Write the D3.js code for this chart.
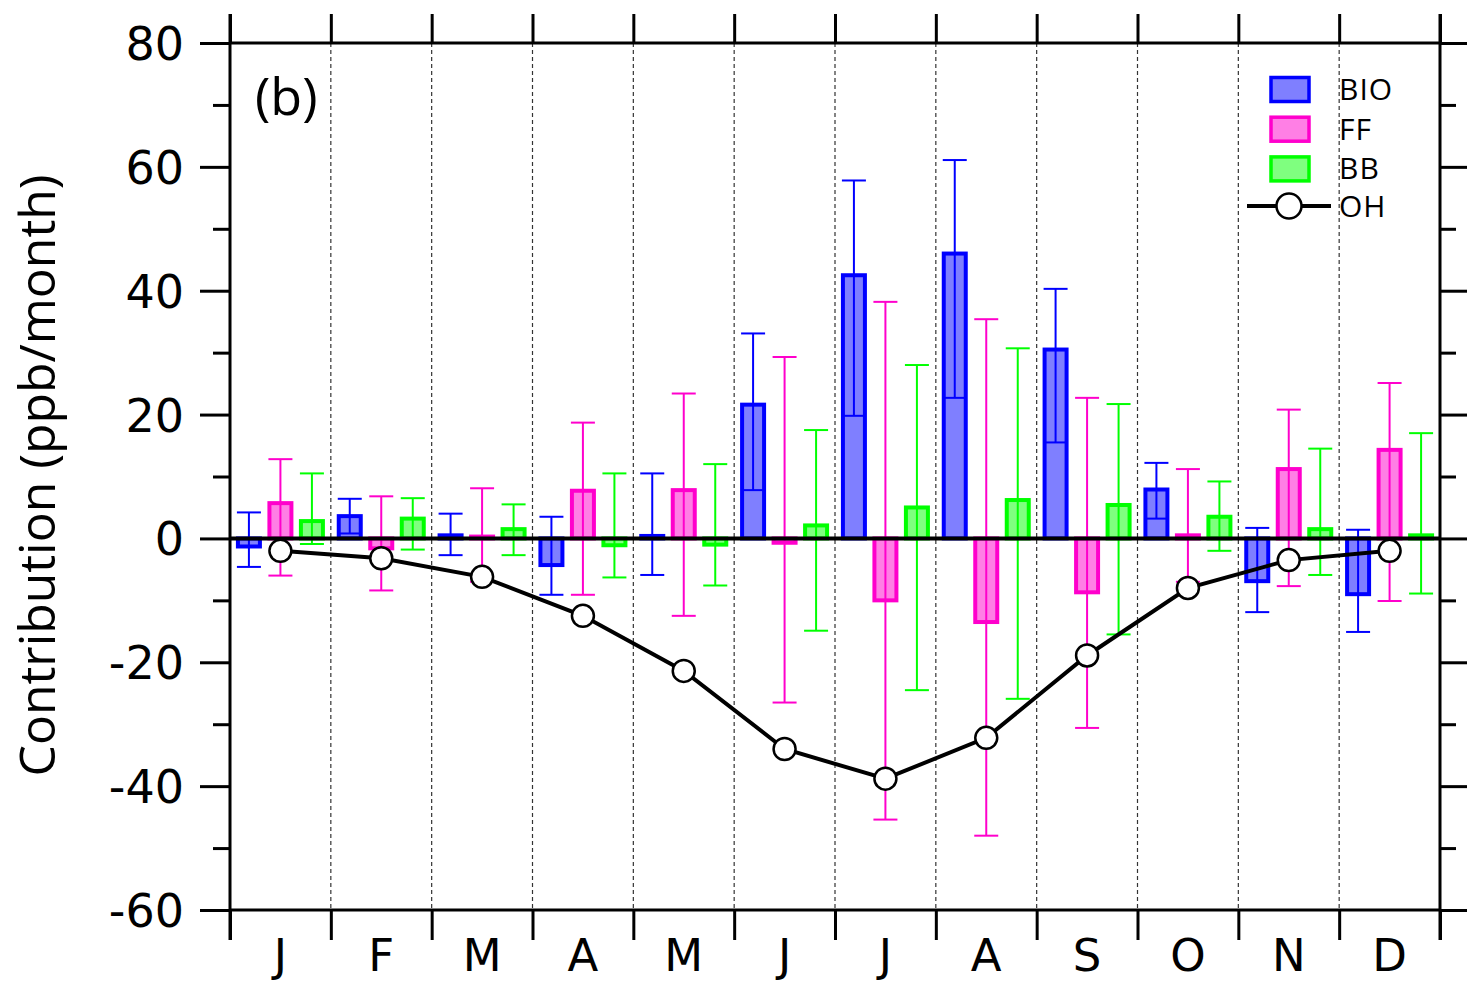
<!DOCTYPE html>
<html>
<head>
<meta charset="utf-8">
<script src="https://cdn.jsdelivr.net/npm/d3@7"></script>
<style>
  body { margin: 0; background: #fff; }
  svg { display: block; }
  .tick_lbl { font-family: "DejaVu Sans", sans-serif; }
</style>
</head>
<body>
<svg id="chart" width="1467" height="983"></svg>
<script>
// months along the x axis
var months = ["J","F","M","A","M","J","J","A","S","O","N","D"];
var series = ["BIO","FF","BB"];

// monthly contributions (ppb/month) and the ends of each error bar
var bio    = [-1.3, 3.6, 0.5, -4.3, 0.4, 21.6, 42.5, 46.0, 30.5, 7.9, -6.9, -9.0];
var bio_hi = [4.2, 6.4, 4.0, 3.5, 10.5, 33.1, 57.8, 61.1, 40.3, 12.2, 1.7, 1.4];
var bio_lo = [-4.6, 0.8, -2.7, -9.1, -5.9, 7.8, 19.8, 22.7, 15.5, 3.2, -11.9, -15.1];

var ff    = [5.7, -1.6, 0.3, 7.7, 7.8, -0.7, -10.0, -13.5, -8.7, 0.5, 11.2, 14.3];
var ff_hi = [12.8, 6.8, 8.1, 18.7, 23.4, 29.3, 38.2, 35.4, 22.7, 11.2, 20.8, 25.1];
var ff_lo = [-6.0, -8.4, -7.0, -9.1, -12.5, -26.5, -45.4, -48.0, -30.6, -7.0, -7.7, -10.1];

var bb    = [2.8, 3.2, 1.5, -1.1, -1.0, 2.1, 5.0, 6.2, 5.4, 3.5, 1.5, 0.5];
var bb_hi = [10.5, 6.5, 5.5, 10.5, 12.0, 17.5, 28.0, 30.7, 21.7, 9.2, 14.5, 17.0];
var bb_lo = [-0.9, -1.8, -2.7, -6.3, -7.6, -14.9, -24.5, -25.9, -15.5, -2.0, -5.9, -8.9];

var oh = [-2.0, -3.2, -6.2, -12.5, -21.4, -34.0, -38.8, -32.2, -18.9, -8.0, -3.5, -2.0];

var y_major = [-60, -40, -20, 0, 20, 40, 60, 80];
var y_minor = [-50, -30, -10, 10, 30, 50, 70];

var colors = { BIO: "#0000ff", FF: "#ff00cc", BB: "#00ff00" };

var margin = { left: 230, right: 27, top: 43, bottom: 73 };
var w_svg = 1467, h_svg = 983;
var x0 = margin.left, x1 = w_svg - margin.right;
var y0 = margin.top, y1 = h_svg - margin.bottom;

var svg = d3.select("#chart");

var idx = d3.range(months.length);
var x = d3.scaleBand().domain(idx).range([x0, x1]).padding(0);
var xb = d3.scaleLinear().domain([0, 12]).range([x0, x1]);   // month boundaries
var xs = d3.scaleBand().domain(series).range([-47.25, 47.25]);
var y = d3.scaleLinear().domain([-60, 80]).range([y1, y0]);

var rows = [];
idx.forEach(function(i) {
  rows.push({ s: "BIO", i: i, v: bio[i], hi: bio_hi[i], lo: bio_lo[i] });
  rows.push({ s: "FF",  i: i, v: ff[i],  hi: ff_hi[i],  lo: ff_lo[i] });
  rows.push({ s: "BB",  i: i, v: bb[i],  hi: bb_hi[i],  lo: bb_lo[i] });
});
function cx(d) { return x(d.i) + x.bandwidth()/2 + xs(d.s) + xs.bandwidth()/2; }

// dashed month separators
svg.append("g").selectAll("line")
   .data(d3.range(1, 12))
   .enter().append("line")
   .attr("x1", function(d) { return xb(d); })
   .attr("x2", function(d) { return xb(d); })
   .attr("y1", y0).attr("y2", y1)
   .style("stroke", "#333")
   .style("stroke-width", 1.2)
   .style("stroke-dasharray", "4,3");

// error bars (drawn under the half transparent bars)
var err = svg.append("g").selectAll("g")
   .data(rows).enter().append("g")
   .style("stroke", function(d) { return colors[d.s]; })
   .style("stroke-width", 2);
err.append("line")
   .attr("x1", cx).attr("x2", cx)
   .attr("y1", function(d) { return y(d.hi); })
   .attr("y2", function(d) { return y(d.lo); });
err.append("line")
   .attr("x1", function(d) { return cx(d) - 12; })
   .attr("x2", function(d) { return cx(d) + 12; })
   .attr("y1", function(d) { return y(d.hi); })
   .attr("y2", function(d) { return y(d.hi); });
err.append("line")
   .attr("x1", function(d) { return cx(d) - 12; })
   .attr("x2", function(d) { return cx(d) + 12; })
   .attr("y1", function(d) { return y(d.lo); })
   .attr("y2", function(d) { return y(d.lo); });

// bars
svg.append("g").selectAll("rect")
   .data(rows).enter().append("rect")
   .attr("x", function(d) { return cx(d) - 11; })
   .attr("width", 22)
   .attr("y", function(d) { return y(Math.max(d.v, 0)); })
   .attr("height", function(d) { return Math.abs(y(d.v) - y(0)); })
   .style("fill", function(d) { return colors[d.s]; })
   .style("fill-opacity", 0.5)
   .style("stroke", function(d) { return colors[d.s]; })
   .style("stroke-width", 4);

// zero line
svg.append("line")
   .attr("x1", x0).attr("x2", x1)
   .attr("y1", y(0)).attr("y2", y(0))
   .style("stroke", "black")
   .style("stroke-width", 4);

// OH line + circles
var ohx = function(d, i) { return x(i) + x.bandwidth()/2; };
svg.append("path")
   .datum(oh)
   .attr("d", d3.line().x(ohx).y(function(d) { return y(d); }))
   .style("fill", "none")
   .style("stroke", "black")
   .style("stroke-width", 4);
svg.append("g").selectAll("circle")
   .data(oh).enter().append("circle")
   .attr("cx", ohx)
   .attr("cy", function(d) { return y(d); })
   .attr("r", 11)
   .style("fill", "white")
   .style("stroke", "black")
   .style("stroke-width", 2.5);

// axes
function clean(g) {
  g.select(".domain").remove();
  g.selectAll(".tick line").style("stroke", "black").style("stroke-width", 3);
}
svg.append("g").attr("transform", "translate(" + x0 + ",0)")
   .call(d3.axisLeft(y).tickValues(y_major).tickSize(30).tickPadding(16)
           .tickFormat(function(d) { return String(d); }))
   .call(clean)
   .selectAll("text")
   .attr("class", "tick_lbl")
   .style("font-size", "46px")
   .attr("dy", "0.36em");
svg.append("g").attr("transform", "translate(" + x0 + ",0)")
   .call(d3.axisLeft(y).tickValues(y_minor).tickSize(17).tickFormat(""))
   .call(clean);
svg.append("g").attr("transform", "translate(" + x1 + ",0)")
   .call(d3.axisRight(y).tickValues(y_major).tickSize(30).tickFormat(""))
   .call(clean);
svg.append("g").attr("transform", "translate(" + x1 + ",0)")
   .call(d3.axisRight(y).tickValues(y_minor).tickSize(16).tickFormat(""))
   .call(clean);
svg.append("g").attr("transform", "translate(0," + y0 + ")")
   .call(d3.axisTop(xb).tickValues(d3.range(0, 13)).tickSize(29).tickFormat(""))
   .call(clean);
svg.append("g").attr("transform", "translate(0," + y1 + ")")
   .call(d3.axisBottom(xb).tickValues(d3.range(0, 13)).tickSize(30).tickFormat(""))
   .call(clean);
svg.append("g").attr("transform", "translate(0," + y1 + ")")
   .call(d3.axisBottom(x).tickSize(0).tickPadding(29).tickFormat(function(i) { return months[i]; }))
   .call(clean)
   .selectAll("text")
   .attr("class", "tick_lbl")
   .style("font-size", "45px")
   .attr("dy", "0.72em");

// frame
var frame = svg.append("g").style("stroke", "black").style("stroke-width", 3);
frame.append("line").attr("x1", x0).attr("x2", x0).attr("y1", y0 - 29).attr("y2", y1 + 30);
frame.append("line").attr("x1", x1).attr("x2", x1).attr("y1", y0 - 29).attr("y2", y1 + 30);
frame.append("line").attr("x1", x0).attr("x2", x1).attr("y1", y0).attr("y2", y0);
frame.append("line").attr("x1", x0).attr("x2", x1).attr("y1", y1).attr("y2", y1);

// y axis title
svg.append("text")
   .attr("transform", "translate(55," + ((y0 + y1)/2 - 1) + ") rotate(-90)")
   .attr("text-anchor", "middle")
   .attr("textLength", 602)
   .attr("lengthAdjust", "spacingAndGlyphs")
   .style("font-family", "'Open Sans', sans-serif")
   .style("font-size", "49px")
   .text("Contribution (ppb/month)");

// panel label
svg.append("text")
   .attr("x", 255).attr("y", 115)
   .style("font-family", "'Open Sans', sans-serif")
   .style("font-size", "52px")
   .text("(b)");

// legend
var leg = svg.append("g").attr("transform", "translate(1271,0)");
series.forEach(function(s, k) {
  leg.append("rect")
     .attr("x", 0).attr("y", 77.5 + k*39.7)
     .attr("width", 38).attr("height", 24)
     .style("fill", colors[s]).style("fill-opacity", 0.5)
     .style("stroke", colors[s]).style("stroke-width", 3.5);
  leg.append("text")
     .attr("x", 68).attr("y", 100 + k*39.7)
     .style("font-family", "'Open Sans', sans-serif")
     .style("font-size", "30px")
     .style("letter-spacing", "1px")
     .text(s);
});
leg.append("line")
   .attr("x1", -24).attr("x2", 60).attr("y1", 206).attr("y2", 206)
   .style("stroke", "black").style("stroke-width", 4);
leg.append("circle")
   .attr("cx", 18).attr("cy", 206).attr("r", 12.5)
   .style("fill", "white").style("stroke", "black").style("stroke-width", 2.5);
leg.append("text")
   .attr("x", 68).attr("y", 217)
   .style("font-family", "'Open Sans', sans-serif")
   .style("font-size", "30px")
   .style("letter-spacing", "1px")
   .text("OH");
</script>
</body>
</html>
